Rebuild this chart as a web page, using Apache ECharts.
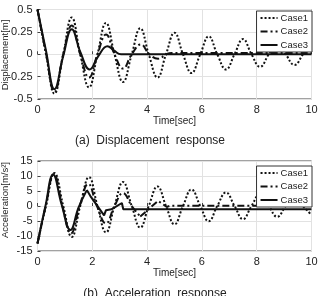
<!DOCTYPE html>
<html><head><meta charset="utf-8">
<script src="https://cdn.jsdelivr.net/npm/echarts@6/dist/echarts.min.js"></script>
<style>html,body{margin:0;padding:0;background:#fff}#c{width:324px;height:296px}</style>
</head><body><div id="c"></div>
<script>
// ---- Data ----
const xTicks = [0, 2, 4, 6, 8, 10];
const dispTicks = [-0.5, -0.25, 0, 0.25, 0.5];
const accTicks = [-15, -10, -5, 0, 5, 10, 15];

// Displacement
const tCase1 = [0,0.31,0.62,0.94,1.25,1.56,1.88,2.19,2.5,2.81,3.12,3.44,3.75,4.06,4.38,4.69,5,5.31,5.62,5.94,6.25,6.56,6.88,7.19,7.5,7.81,8.12,8.44,8.75,9.06,9.38,9.69,10];
const disp1 = [0.5,0,-0.44,0,0.41,0,-0.37,0,0.35,0,-0.31,0,0.29,0,-0.26,0,0.24,0,-0.21,0,0.2,0,-0.17,0,0.17,0,-0.14,0,0.14,0,-0.12,0,0.12];
const tDisp2 = [0,0.31,0.62,0.94,1.25,1.56,1.88,2.19,2.5,2.81,3.12,3.44,3.77,4.08,4.4,4.7,4.9,10];
const disp2 = [0.5,0.01,-0.42,0,0.32,0,-0.26,0,0.22,0,-0.16,0,0.11,0,-0.05,0,0.015,0.015];
const tDisp3 = [0,0.31,0.62,0.94,1.25,1.57,1.9,2.22,2.55,2.8,3.05,10];
const disp3 = [0.5,0.04,-0.39,-0.02,0.28,0.02,-0.17,-0.02,0.09,0.04,0,0];

// Acceleration
const acc1 = [-12.5,0,11,0,-10.3,0,9.6,0,-8.8,0,8,0,-7.2,0,6.5,0,-6.1,0,5.5,0,-5.1,0,4.5,0,-4.4,0,3.9,0,-3.6,0,3.1,0,-3];
const tAcc2a = [0,0.3,0.6,0.91,1.22,1.54,1.85,2.17,2.5,2.81,3.12,3.44,3.75];
const acc2a = [-12.5,0,10.6,0,-9.2,0,7.4,0,-5.8,0,4.3,0,-3.5];
const tAcc2b = [3.75,4.4,4.72,4.85,10];
const acc2b = [-3.5,1.7,-0.3,0.1,0.1];
const tAcc3a = [0,0.29,0.57,0.88,1.2,1.5,1.8];
const acc3a = [-12.5,0,10.5,0.5,-8,-0.5,5.3];
const tAcc3b = [1.8,1.93,2.43,2.5,2.7,3.08,3.13,10];
const acc3b = [5.3,3.3,-3.1,-1.4,-1.1,1.0,-1.1,-1.1];

const zip = (t, v) => t.map((x, i) => [x, v[i]]);

const styles = {
  Case1: { color: '#111', width: 2, type: [2, 2] },
  Case2: { color: '#111', width: 2, type: [7, 3, 2, 3] },
  Case3: { color: '#111', width: 2, type: 'solid' }
};
function line(name, data, xi, smooth) {
  return { name, type: 'line', xAxisIndex: xi, yAxisIndex: xi, data, smooth,
    symbol: 'none', lineStyle: styles[name], itemStyle: { color: '#111' },
    emphasis: { disabled: true }, animation: false };
}

const font = 'Liberation Sans, Arial, sans-serif';
const txt = '#222';
function xAxis(gi, gap) {
  return { type: 'value', gridIndex: gi, min: 0, max: 10, interval: 2,
    name: 'Time[sec]', nameLocation: 'middle', nameGap: gap,
    nameTextStyle: { fontFamily: font, fontSize: 10, color: txt },
    axisLine: { show: false }, axisTick: { inside: true, length: 3, lineStyle: { color: '#444' } },
    axisLabel: { fontFamily: font, fontSize: 11, color: txt, margin: 5 },
    splitLine: { show: true, lineStyle: { color: '#e2e2e2', width: 1 } } };
}
function yAxis(gi, min, max, interval) {
  return { type: 'value', gridIndex: gi, min, max, interval,
    axisLine: { show: false }, axisTick: { inside: true, length: 3, lineStyle: { color: '#444' } },
    axisLabel: { fontFamily: font, fontSize: 11, color: txt, margin: 5 },
    splitLine: { show: true, lineStyle: { color: '#e2e2e2', width: 1 } } };
}
function legend(top) {
  return { orient: 'vertical', right: 12, top, data: ['Case1', 'Case2', 'Case3'],
    backgroundColor: '#fff', borderColor: '#333', borderWidth: 1,
    padding: [2, 4, 2, 3], itemWidth: 17, itemHeight: 8, itemGap: 3.5,
    itemStyle: { opacity: 0, color: 'transparent', borderColor: 'transparent', borderWidth: 0 },
    textStyle: { fontFamily: font, fontSize: 9.5, color: txt, padding: [0, 0, 0, -2] },
    selectedMode: false };
}
function vText(text, x, y) {
  return { type: 'text', x, y, rotation: Math.PI / 2,
    style: { text, font: '9.5px ' + font, fill: txt, textAlign: 'center', textVerticalAlign: 'middle' } };
}

const chart = echarts.init(document.getElementById('c'), null, { renderer: 'canvas' });
chart.setOption({
  animation: false,
  backgroundColor: '#fff',
  grid: [
    { left: 37.5, right: 12.5, top: 9.5, height: 89.5, show: true, borderColor: '#444', borderWidth: 1, backgroundColor: 'transparent', containLabel: false, outerBoundsMode: 'none' },
    { left: 37.5, right: 12.5, top: 161, height: 90, show: true, borderColor: '#444', borderWidth: 1, backgroundColor: 'transparent', containLabel: false, outerBoundsMode: 'none' }
  ],
  legend: [legend(11), legend(166)],
  xAxis: [xAxis(0, 15), xAxis(1, 17)],
  yAxis: [
    yAxis(0, -0.5, 0.5, 0.25),
    yAxis(1, -15, 15, 5)
  ],
  graphic: [
    vText('Displacement[m]', 5, 55),
    vText('Acceleration[m/s²]', 5, 200),
    { type: 'text', x: 150, y: 141, style: { text: '(a)  Displacement  response', font: '12px ' + font, fill: '#222', textAlign: 'center', textVerticalAlign: 'middle' } },
    { type: 'text', x: 155, y: 294, style: { text: '(b)  Acceleration  response', font: '12px ' + font, fill: '#222', textAlign: 'center', textVerticalAlign: 'middle' } }
  ],
  series: [
    line('Case1', zip(tCase1, disp1), 0, 0.45),
    line('Case2', zip(tDisp2, disp2), 0, 0.45),
    line('Case3', zip(tDisp3, disp3), 0, 0.45),
    line('Case1', zip(tCase1, acc1), 1, 0.45),
    line('Case2', zip(tAcc2a, acc2a), 1, 0.45),
    line('Case2', zip(tAcc2b, acc2b), 1, false),
    line('Case3', zip(tAcc3a, acc3a), 1, 0.45),
    line('Case3', zip(tAcc3b, acc3b), 1, false)
  ]
});
</script></body></html>
